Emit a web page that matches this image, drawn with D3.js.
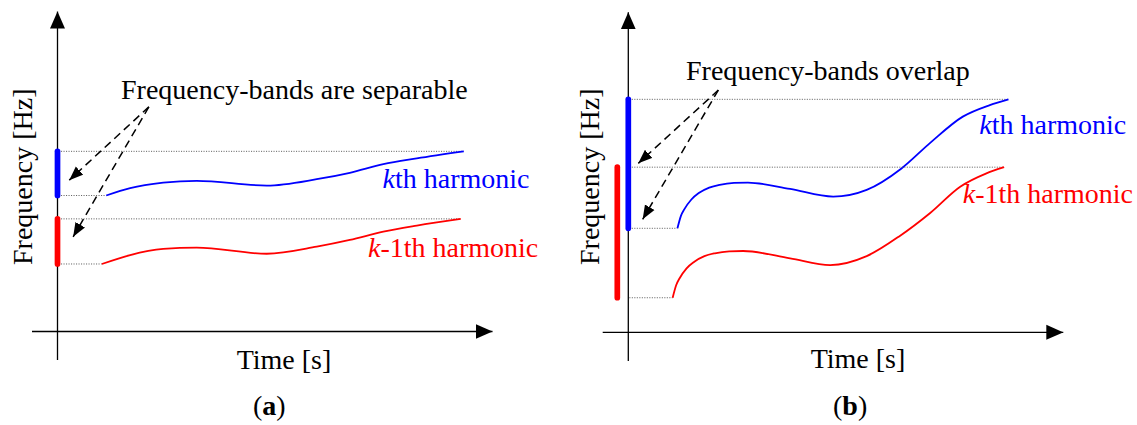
<!DOCTYPE html>
<html>
<head>
<meta charset="utf-8">
<script src="https://cdn.jsdelivr.net/npm/d3@7"></script>
<style>
  html, body { margin: 0; padding: 0; background: #fff; }
  svg { display: block; }
  text { font-family: "Liberation Serif", "Times New Roman", Times, serif; font-size: 28px; }
</style>
</head>
<body>
<svg id="chart" width="1137" height="425"></svg>
<script>
// Sketch of two harmonics drifting in frequency over time.
// Time and frequency are in arbitrary units (0-100 along each axis).

// (a) separable frequency bands
const timeA_k   = [11.2, 16.7, 24.3, 32.0, 48.1, 59.6, 67.2, 74.9, 82.6, 93.4];
const freqA_k   = [42.5, 44.8, 46.5, 47.1, 45.6, 47.6, 49.6, 52.3, 54.1, 56.3];
const timeA_km1 = [10.2, 16.7, 24.3, 32.0, 48.1, 59.6, 67.2, 74.9, 82.6, 92.7];
const freqA_km1 = [21.1, 23.9, 25.8, 26.2, 24.3, 26.5, 28.6, 31.2, 33.1, 35.2];

// (b) overlapping frequency bands
const timeB_k   = [11.3, 12.1, 12.9, 14.5, 16.2, 18.6, 21.0, 24.3, 27.5, 37.2, 47.1, 54.8, 62.8, 69.4, 76.9, 83.1, 87.4];
const freqB_k   = [32.5, 36.4, 38.5, 41.5, 43.5, 45.2, 46.1, 46.7, 46.8, 44.8, 42.4, 44.5, 51.2, 59.2, 67.4, 71.0, 72.8];
const timeB_km1 = [10.2, 11.0, 11.8, 13.4, 15.1, 17.5, 19.9, 23.2, 26.4, 37.2, 46.4, 54.8, 62.5, 69.4, 76.3, 82.2, 86.4];
const freqB_km1 = [10.8, 14.7, 16.9, 20.0, 22.0, 23.8, 24.7, 25.3, 25.4, 23.1, 21.0, 23.8, 30.2, 37.3, 45.5, 49.6, 51.6];

// annotation arrows: [time, freq] of the tail and of each head
const calloutA = { from: [21.0, 70.2], to: [[2.7, 47.3], [3.6, 29.6]] };
const calloutB = { from: [20.7, 75.7], to: [[2.3, 52.8], [3.3, 35.3]] };

const labels = {
  title: ["Frequency-bands are separable", "Frequency-bands overlap"],
  panel: ["a", "b"],
  xTitle: "Time [s]",
  yTitle: "Frequency [Hz]"
};

const BLUE = "#0000ff", RED = "#ff0000";
const FONT = "'Liberation Serif', 'Times New Roman', Times, serif";

const svg = d3.select("#chart");

// arrowhead markers
const defs = svg.append("defs");
defs.append("marker")
  .attr("id", "axisHead").attr("markerUnits", "userSpaceOnUse")
  .attr("viewBox", "0 -8 17 16").attr("refX", 17).attr("refY", 0)
  .attr("markerWidth", 17).attr("markerHeight", 16).attr("orient", "auto")
  .append("path").attr("d", "M0,-7.5L17,0L0,7.5Z").attr("fill", "#000");
defs.append("marker")
  .attr("id", "dashHead").attr("markerUnits", "userSpaceOnUse")
  .attr("viewBox", "0 -6 14 12").attr("refX", 14).attr("refY", 0)
  .attr("markerWidth", 14).attr("markerHeight", 12).attr("orient", "auto")
  .append("path").attr("d", "M0,-5.5L14,0L0,5.5Z").attr("fill", "#000");

const panels = [
  {
    ox: 57.5, oy: 331.5,
    series: [
      { t: timeA_k,   f: freqA_k,   color: BLUE, barDx: 0 },
      { t: timeA_km1, f: freqA_km1, color: RED,  barDx: 0 }
    ],
    callout: calloutA,
    title: labels.title[0], titlePos: [121, 99],
    kLabel: [382.5, 187.7], km1Label: [368, 256.7],
    xTitlePos: [236.7, 369], panelPos: [253, 415], yTitleX: 31.7,
    xStart: 32, yEnd: 360
  },
  {
    ox: 628.3, oy: 332.3,
    series: [
      { t: timeB_k,   f: freqB_k,   color: BLUE, barDx: 0 },
      { t: timeB_km1, f: freqB_km1, color: RED,  barDx: -11 }
    ],
    callout: calloutB,
    title: labels.title[1], titlePos: [686, 80],
    kLabel: [979.3, 134.3], km1Label: [962.7, 203.3],
    xTitlePos: [810.7, 368.3], panelPos: [833, 415], yTitleX: 599,
    xStart: 602.7, yEnd: 361
  }
];

panels.forEach((p, pi) => {
  const x = d3.scaleLinear().domain([0, 100]).range([p.ox, p.ox + 435]);
  const y = d3.scaleLinear().domain([0, 100]).range([p.oy, p.oy - 320]);
  const g = svg.append("g").attr("font-family", FONT).attr("font-size", 28);

  // axes
  g.append("line")
    .attr("x1", p.xStart).attr("y1", y(0)).attr("x2", x(100)).attr("y2", y(0))
    .attr("stroke", "#000").attr("stroke-width", 1.3).attr("marker-end", "url(#axisHead)");
  g.append("line")
    .attr("x1", x(0)).attr("y1", p.yEnd).attr("x2", x(0)).attr("y2", y(100))
    .attr("stroke", "#000").attr("stroke-width", 1.3).attr("marker-end", "url(#axisHead)");

  const line = d3.line()
    .x((d) => x(d[0])).y((d) => y(d[1]))
    .curve(d3.curveMonotoneX);

  p.series.forEach((s) => {
    const pts = s.t.map((t, i) => [t, s.f[i]]);
    const iMax = d3.maxIndex(s.f), iMin = d3.minIndex(s.f);
    const fMax = s.f[iMax], fMin = s.f[iMin];

    // dotted guides from the axis to the band extremes
    [[iMax, fMax], [iMin, fMin]].forEach(([i, f]) => {
      g.append("line")
        .attr("x1", x(0) + 1).attr("x2", x(s.t[i]))
        .attr("y1", y(f)).attr("y2", y(f))
        .attr("stroke", "#555").attr("stroke-width", 0.9)
        .attr("stroke-dasharray", "1.1,1.4");
    });

    g.append("path")
      .attr("d", line(pts))
      .attr("fill", "none").attr("stroke", s.color).attr("stroke-width", 1.8);

    s.band = [fMin, fMax];
  });

  // frequency bands on the axis
  p.series.forEach((s) => {
    g.append("line")
      .attr("x1", x(0) + s.barDx).attr("x2", x(0) + s.barDx)
      .attr("y1", y(s.band[0])).attr("y2", y(s.band[1]))
      .attr("stroke", s.color).attr("stroke-width", 5.7).attr("stroke-linecap", "round");
  });

  // dashed callout arrows
  p.callout.to.forEach((tip) => {
    g.append("line")
      .attr("x1", x(p.callout.from[0])).attr("y1", y(p.callout.from[1]))
      .attr("x2", x(tip[0])).attr("y2", y(tip[1]))
      .attr("stroke", "#000").attr("stroke-width", 1.5)
      .attr("stroke-dasharray", "8,5")
      .attr("marker-end", "url(#dashHead)");
  });

  // text
  g.append("text").attr("x", p.titlePos[0]).attr("y", p.titlePos[1])
    .attr("fill", "#000").text(p.title);

  const kt = g.append("text").attr("x", p.kLabel[0]).attr("y", p.kLabel[1]).attr("fill", BLUE);
  kt.append("tspan").attr("font-style", "italic").text("k");
  kt.append("tspan").text("th harmonic");

  const k1 = g.append("text").attr("x", p.km1Label[0]).attr("y", p.km1Label[1]).attr("fill", RED);
  k1.append("tspan").attr("font-style", "italic").text("k");
  k1.append("tspan").text("-1th harmonic");

  g.append("text").attr("x", p.xTitlePos[0]).attr("y", p.xTitlePos[1])
    .attr("fill", "#000").text(labels.xTitle);

  g.append("text")
    .attr("transform", `translate(${p.yTitleX},265) rotate(-90)`)
    .attr("fill", "#000").text(labels.yTitle);

  const pl = g.append("text").attr("x", p.panelPos[0]).attr("y", p.panelPos[1]).attr("fill", "#000");
  pl.append("tspan").text("(");
  pl.append("tspan").attr("font-weight", "bold").text(labels.panel[pi]);
  pl.append("tspan").text(")");
});
</script>
</body>
</html>
